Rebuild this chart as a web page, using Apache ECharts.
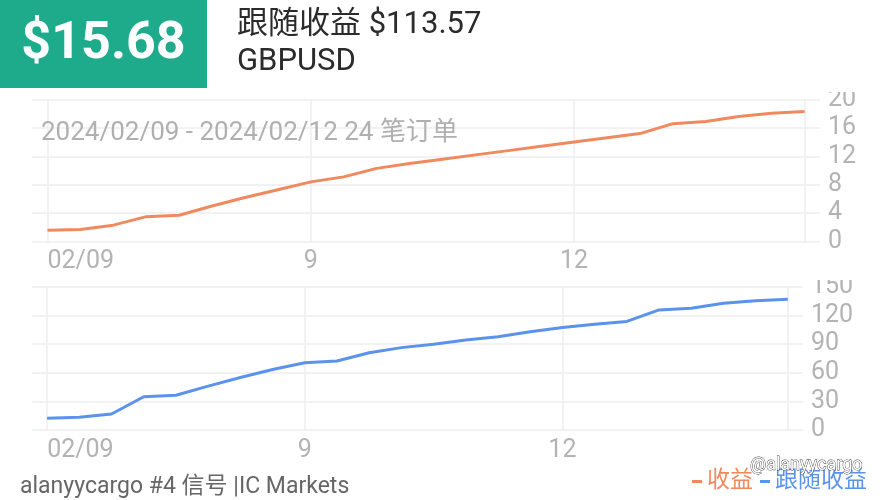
<!DOCTYPE html>
<html>
<head>
<meta charset="utf-8">
<script src="https://cdn.jsdelivr.net/npm/echarts@6/dist/echarts.min.js"></script>
<style>
  html, body { margin: 0; padding: 0; background: #fff; }
  #chart { width: 880px; height: 500px; }
</style>
</head>
<body>
<div id="chart"></div>
<script>
// ---- data ----
var profit = [1.6, 1.7, 2.3, 3.5, 3.7, 5.0, 6.2, 7.3, 8.4, 9.1, 10.3, 11.0, 11.6, 12.2, 12.8, 13.4, 14.0, 14.6, 15.2, 16.6, 16.9, 17.6, 18.05, 18.3];
var followProfit = [12.3, 13.3, 16.8, 34.9, 36.4, 46.0, 55.0, 63.5, 70.6, 72.4, 81.1, 86.4, 89.9, 94.4, 97.9, 103.1, 107.4, 110.9, 113.9, 126.0, 127.7, 133.0, 135.7, 137.2];
var xTickIndex = [0, 8, 16];
var xTickLabels = ['02/09', '9', '12'];
var gridLineIndex = [0, 8, 16, 23];
var topYTicks = [0, 4, 8, 12, 16, 20];
var bottomYTicks = [0, 30, 60, 90, 120, 150];
var seriesNames = ['收益', '跟随收益'];
var headerValue = '$15.68';
var headerTitle = '跟随收益 $113.57';
var headerSymbol = 'GBPUSD';
var subtitle = '2024/02/09 - 2024/02/12 24 笔订单';
var footer = 'alanyycargo #4 信号 |IC Markets';
var watermark = '@alanyycargo';

var ORANGE = '#F0895E';
var BLUE = '#5B93EC';
var LABEL = '#b3b3b3';
var SPLIT = '#eeeeee';
var FONT = 'Roboto, "Noto Sans", "Noto Sans CJK SC", sans-serif';

function pairs(arr) { return arr.map(function (v, i) { return [i, v]; }); }
function xLabelFmt(v) {
  var k = xTickIndex.indexOf(Math.round(v));
  return k >= 0 ? xTickLabels[k] : '';
}

function xAxisCfg(gridIndex) {
  return {
    type: 'value', gridIndex: gridIndex,
    min: -0.47, max: profit.length - 1 + 0.47,
    axisLine: { show: false },
    axisTick: { show: false, customValues: gridLineIndex },
    splitLine: { show: true, lineStyle: { color: SPLIT, width: 1.5 } },
    axisLabel: {
      customValues: xTickIndex,
      formatter: xLabelFmt,
      color: LABEL, fontFamily: FONT, fontSize: 25,
      margin: 8, alignMinLabel: 'left'
    }
  };
}
function yAxisCfg(gridIndex, ticks) {
  return {
    type: 'value', gridIndex: gridIndex, position: 'right',
    min: ticks[0], max: ticks[ticks.length - 1], interval: ticks[1] - ticks[0],
    axisLine: { show: false }, axisTick: { show: false },
    splitLine: { show: true, lineStyle: { color: SPLIT, width: 1.5 } },
    axisLabel: { color: LABEL, fontFamily: FONT, fontSize: 25, margin: 8 }
  };
}

var chart = echarts.init(document.getElementById('chart'), null, { renderer: 'canvas' });
chart.setOption({
  backgroundColor: '#ffffff',
  animation: false,
  grid: [
    { left: 32, right: 60, top: 99.5, height: 142 },
    { left: 32, right: 77, top: 287, height: 143 }
  ],
  xAxis: [xAxisCfg(0), xAxisCfg(1)],
  yAxis: [yAxisCfg(0, topYTicks), yAxisCfg(1, bottomYTicks)],
  legend: {
    right: 8, bottom: 2,
    itemWidth: 10, itemHeight: 3, itemGap: 7,
    icon: 'rect',
    textStyle: { fontSize: 23, fontFamily: FONT },
    data: [
      { name: seriesNames[0], textStyle: { color: ORANGE } },
      { name: seriesNames[1], textStyle: { color: BLUE } }
    ]
  },
  series: [
    {
      name: seriesNames[0], type: 'line', xAxisIndex: 0, yAxisIndex: 0,
      data: pairs(profit), showSymbol: false, smooth: false,
      color: ORANGE, lineStyle: { color: ORANGE, width: 3 }
    },
    {
      name: seriesNames[1], type: 'line', xAxisIndex: 1, yAxisIndex: 1,
      data: pairs(followProfit), showSymbol: false, smooth: false,
      color: BLUE, lineStyle: { color: BLUE, width: 3 }
    }
  ],
  graphic: [
    { type: 'rect', z: 100, shape: { x: 0, y: 0, width: 880, height: 92 }, style: { fill: '#fff' } },
    { type: 'rect', z: 100, shape: { x: 780, y: 268, width: 100, height: 12 }, style: { fill: '#fff' } },
    { type: 'rect', z: 101, shape: { x: 0, y: 0, width: 207, height: 88 }, style: { fill: '#1DAB8C' } },
    { type: 'text', z: 102, x: 103.5, y: 45, style: { text: headerValue, fill: '#fff', font: 'bold 52px ' + FONT, textAlign: 'center', textVerticalAlign: 'middle' } },
    { type: 'text', z: 102, x: 237, y: 25, style: { text: headerTitle, fill: '#2b2b2b', font: '31px ' + FONT, textVerticalAlign: 'middle' } },
    { type: 'text', z: 102, x: 237, y: 62, style: { text: headerSymbol, fill: '#2b2b2b', font: '31px ' + FONT, textVerticalAlign: 'middle' } },
    { type: 'text', z: 102, x: 41, y: 133, style: { text: subtitle, fill: '#b0b0b0', font: '26px ' + FONT, textVerticalAlign: 'middle' } },
    { type: 'text', z: 102, x: 20, y: 487, style: { text: footer, fill: '#666', font: '23px ' + FONT, textVerticalAlign: 'middle' } },
    { type: 'text', z: 102, x: 750, y: 465, style: { text: watermark, fill: '#fff', stroke: '#333', lineWidth: 0.8, font: '18px ' + FONT, textVerticalAlign: 'middle' } }
  ]
});
</script>
</body>
</html>
